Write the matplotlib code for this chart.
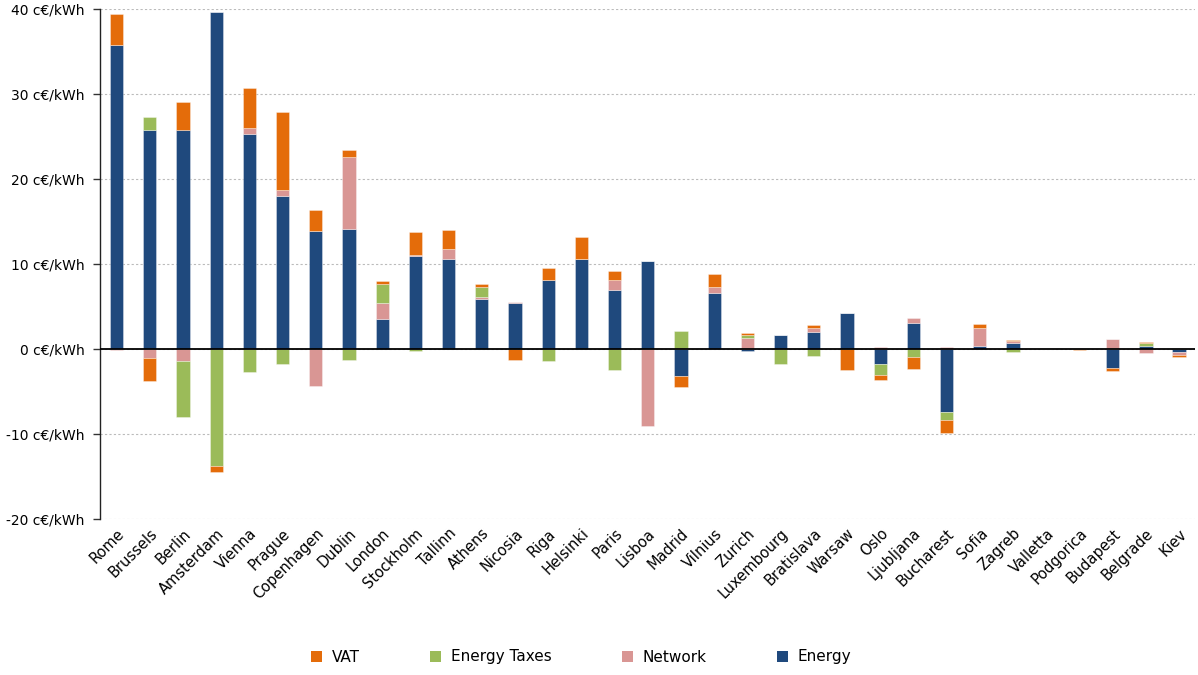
import matplotlib
matplotlib.use("Agg")
import matplotlib.pyplot as plt
import numpy as np
from matplotlib.patches import Patch

cities = ["Rome", "Brussels", "Berlin", "Amsterdam", "Vienna", "Prague", "Copenhagen",
          "Dublin", "London", "Stockholm", "Tallinn", "Athens", "Nicosia", "Riga",
          "Helsinki", "Paris", "Lisboa", "Madrid", "Vilnius", "Zurich", "Luxembourg",
          "Bratislava", "Warsaw", "Oslo", "Ljubljana", "Bucharest", "Sofia", "Zagreb",
          "Valletta", "Podgorica", "Budapest", "Belgrade", "Kiev"]

energy = [35.8, 25.8, 25.8, 39.6, 25.25, 17.95, 13.85, 14.15, 3.5, 10.9, 10.55, 5.9,
          5.45, 8.15, 10.55, 6.9, 10.35, -3.2, 6.55, -0.2, 1.6, 1.95, 4.2, -1.75, 3.05,
          -7.4, 0.35, 0.65, 0, 0, -2.25, 0.3, -0.35]
network = [-0.1, -1.0, -1.45, 0, 0.8, 0.75, -4.3, 8.45, 1.9, 0.15, 1.2, 0.25, 0.05, 0,
           0, 1.2, -9.05, 0, 0.75, 1.35, 0, 0.5, 0, 0.25, 0.55, 0.2, 2.1, 0.25, 0, 0,
           1.2, -0.45, -0.4]
energy_taxes = [0, 1.5, -6.55, -13.75, -2.65, -1.8, 0, -1.25, 2.25, -0.25, 0, 1.15, 0,
                -1.45, 0, -2.45, 0, 2.1, 0, 0.3, -1.8, -0.8, 0, -1.3, -0.95, -1.0, 0,
                -0.4, 0, 0, 0, 0.4, 0]
vat = [3.6, -2.8, 3.3, -0.75, 4.7, 9.15, 2.45, 0.8, 0.35, 2.75, 2.3, 0.4, -1.3, 1.4,
       2.65, 1.1, 0, -1.3, 1.5, 0.2, 0, 0.35, -2.45, -0.65, -1.4, -1.5, 0.45, 0.15, 0,
       -0.15, -0.3, 0.1, -0.15]

series = [("Energy", energy, "#1F497D"),
          ("Network", network, "#D99694"),
          ("Energy Taxes", energy_taxes, "#9BBB59"),
          ("VAT", vat, "#E46C0A")]

plt.rcParams['font.family'] = ['DejaVu Sans']

fig = plt.figure(figsize=(11.98, 6.75), dpi=100)
ax = fig.add_axes([100/1198, 1 - 519/675, 1095/1198, 510/675])

x = np.arange(len(cities))
pos_bottom = np.zeros(len(cities))
neg_bottom = np.zeros(len(cities))
for name, vals, col in series:
    v = np.array(vals, dtype=float)
    bottoms = np.where(v >= 0, pos_bottom, neg_bottom)
    ax.bar(x, v, bottom=bottoms, width=0.4, color=col, edgecolor=(1, 1, 1, 0.4),
           linewidth=0.6, zorder=3)
    pos_bottom += np.where(v >= 0, v, 0)
    neg_bottom += np.where(v < 0, v, 0)

ax.set_xlim(-0.5, len(cities) - 0.52)
ax.set_ylim(-20, 40)
ax.set_yticks([-20, -10, 0, 10, 20, 30, 40])
ax.set_yticklabels([f"{t} c€/kWh" for t in [-20, -10, 0, 10, 20, 30, 40]], fontsize=10)
ax.yaxis.grid(True, linestyle=(0, (2, 2)), color="#BBBBBB", linewidth=0.8, zorder=0)
ax.axhline(0, color="black", linewidth=1.3, zorder=4)
ax.tick_params(axis='y', length=5, width=1, color="#333333", pad=6)
ax.tick_params(axis='x', length=0, pad=5)
ax.set_xticks(x)
ax.set_xticklabels(cities, rotation=45, ha='right', rotation_mode='anchor', fontsize=10.5)
for s in ["top", "right", "bottom"]:
    ax.spines[s].set_visible(False)
ax.spines["left"].set_color("#222222")
ax.spines["left"].set_linewidth(1)

handles = [Patch(facecolor="#E46C0A", label="VAT"),
           Patch(facecolor="#9BBB59", label="Energy Taxes"),
           Patch(facecolor="#D99694", label="Network"),
           Patch(facecolor="#1F497D", label="Energy")]
fig.legend(handles=handles, loc="center", bbox_to_anchor=(581/1198, 1 - 657/675), ncol=4,
           frameon=False, fontsize=11, handlelength=0.72, handleheight=0.72,
           handletextpad=0.65, columnspacing=4.6)

fig.savefig("out.png", dpi=100)
